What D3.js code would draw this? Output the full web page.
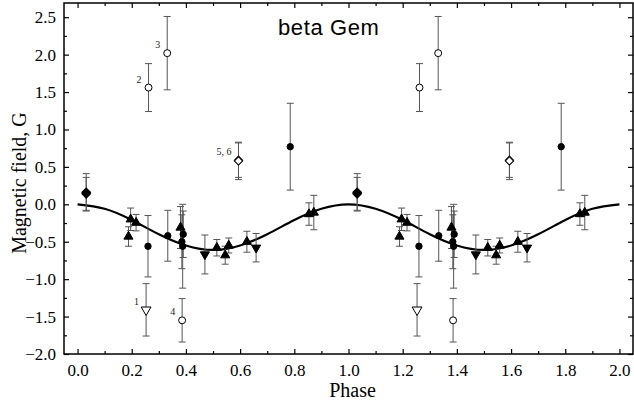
<!DOCTYPE html>
<html>
<head>
<meta charset="utf-8">
<script src="https://cdn.jsdelivr.net/npm/d3@7"></script>
<style>
  body { margin: 0; background: #fff; }
  svg { display: block; }
</style>
</head>
<body>
<div id="chart"></div>
<script>
// measurements for one rotation cycle: [phase, field (G), error]
const filledDiamonds = [[0.032, 0.16, 0.25], [0.032, 0.14, 0.22]];
const openDiamonds = [[0.594, 0.59, 0.23], [0.594, 0.58, 0.25]];
const filledCircles = [
  [0.26, -0.56, 0.41], [0.333, -0.42, 0.34], [0.39, -0.40, 0.31],
  [0.385, -0.50, 0.36], [0.388, -0.56, 0.56], [0.785, 0.77, 0.58]
];
const upTriangles = [
  [0.188, -0.43, 0.13], [0.196, -0.20, 0.15], [0.216, -0.245, 0.11],
  [0.38, -0.31, 0.28], [0.514, -0.58, 0.11], [0.545, -0.68, 0.12],
  [0.558, -0.55, 0.10], [0.625, -0.50, 0.14], [0.854, -0.13, 0.15],
  [0.872, -0.11, 0.23]
];
const downTriangles = [[0.47, -0.67, 0.26], [0.659, -0.58, 0.19]];
const openCircles = [[0.262, 1.56, 0.32], [0.331, 2.02, 0.49], [0.386, -1.55, 0.29]];
const openDownTriangles = [[0.253, -1.41, 0.35]];
// numbered labels (only on first cycle)
const pointLabels = [
  ["1", 0.253, -1.41], ["2", 0.262, 1.56], ["3", 0.331, 2.02],
  ["4", 0.386, -1.55], ["5, 6", 0.594, 0.59]
];

// fitted curve
const curvePhase = [0.0, 0.1, 0.2, 0.3, 0.4, 0.5, 0.6, 0.7, 0.8, 0.9, 1.0,
                    1.1, 1.2, 1.3, 1.4, 1.5, 1.6, 1.7, 1.8, 1.9, 2.0];
const curveField = [0.0, -0.06, -0.21, -0.40, -0.55, -0.61, -0.55, -0.40, -0.21, -0.06, 0.0,
                    -0.06, -0.21, -0.40, -0.55, -0.61, -0.55, -0.40, -0.21, -0.06, 0.0];

const xMajor = [0.0, 0.2, 0.4, 0.6, 0.8, 1.0, 1.2, 1.4, 1.6, 1.8, 2.0];
const xMinor = [0.1, 0.3, 0.5, 0.7, 0.9, 1.1, 1.3, 1.5, 1.7, 1.9];
const yMajor = [-2.0, -1.5, -1.0, -0.5, 0.0, 0.5, 1.0, 1.5, 2.0, 2.5];
const yMinor = [-1.75, -1.25, -0.75, -0.25, 0.25, 0.75, 1.25, 1.75, 2.25];

const width = 634, height = 405;
const plotLeft = 64, plotRight = 633, plotTop = 3, plotBottom = 354;
const serif = "'Liberation Serif', 'Times New Roman', serif";

const x = d3.scaleLinear().domain([-0.05, 2.05]).range([plotLeft, plotRight]);
const y = d3.scaleLinear().domain([-2.0, 2.69]).range([plotBottom, plotTop]);

const svg = d3.select('#chart').append('svg')
  .attr('width', width)
  .attr('height', height);

// both cycles are plotted
const twice = arr => arr.concat(arr.map(d => [d[0] + 1, d[1], d[2]]));

// axes with inward ticks
function addAxis(axis, tx, ty){
  const g = svg.append('g')
    .attr('transform', `translate(${tx},${ty})`)
    .call(axis);
  g.select('.domain').remove();
  g.selectAll('line').attr('stroke', '#000').attr('stroke-width', 1.2);
  g.selectAll('text')
    .attr('font-family', serif)
    .attr('font-size', 17)
    .attr('fill', '#000');
  return g;
}
const fmt = d3.format('.1f');
addAxis(d3.axisBottom(x).tickValues(xMajor).tickSizeInner(-5).tickSizeOuter(0).tickPadding(10).tickFormat(fmt), 0, plotBottom);
addAxis(d3.axisBottom(x).tickValues(xMinor).tickSizeInner(-3).tickSizeOuter(0).tickFormat(''), 0, plotBottom);
addAxis(d3.axisTop(x).tickValues(xMajor).tickSizeInner(-5).tickSizeOuter(0).tickFormat(''), 0, plotTop);
addAxis(d3.axisTop(x).tickValues(xMinor).tickSizeInner(-3).tickSizeOuter(0).tickFormat(''), 0, plotTop);
addAxis(d3.axisLeft(y).tickValues(yMajor).tickSizeInner(-5).tickSizeOuter(0).tickPadding(8).tickFormat(fmt), plotLeft, 0);
addAxis(d3.axisLeft(y).tickValues(yMinor).tickSizeInner(-3).tickSizeOuter(0).tickFormat(''), plotLeft, 0);
addAxis(d3.axisRight(y).tickValues(yMajor).tickSizeInner(-5).tickSizeOuter(0).tickFormat(''), plotRight, 0);
addAxis(d3.axisRight(y).tickValues(yMinor).tickSizeInner(-3).tickSizeOuter(0).tickFormat(''), plotRight, 0);

svg.append('rect')
  .attr('x', plotLeft).attr('y', plotTop)
  .attr('width', plotRight - plotLeft).attr('height', plotBottom - plotTop)
  .attr('fill', 'none')
  .attr('stroke', '#000')
  .attr('stroke-width', 1.5);

// fitted curve
const line = d3.line()
  .x((d, i) => x(curvePhase[i]))
  .y(d => y(d))
  .curve(d3.curveNatural);
svg.append('path')
  .datum(curveField)
  .attr('fill', 'none')
  .attr('stroke', '#000')
  .attr('stroke-width', 2.2)
  .attr('d', line);

// error bars
const allPoints = [filledDiamonds, openDiamonds, filledCircles, upTriangles,
                   downTriangles, openCircles, openDownTriangles].flatMap(twice);
const eb = svg.append('g')
  .attr('stroke', '#555')
  .attr('stroke-width', 1);
allPoints.forEach(d => {
  const px = x(d[0]), y1 = y(d[1] + d[2]), y2 = y(d[1] - d[2]);
  eb.append('line').attr('x1', px).attr('x2', px).attr('y1', y1).attr('y2', y2);
  eb.append('line').attr('x1', px - 3.5).attr('x2', px + 3.5).attr('y1', y1).attr('y2', y1);
  eb.append('line').attr('x1', px - 3.5).attr('x2', px + 3.5).attr('y1', y2).attr('y2', y2);
});

// markers
function drawMarkers(data, type, size, fill, rotate){
  svg.append('g').selectAll('path')
    .data(twice(data))
    .join('path')
    .attr('d', d3.symbol().type(type).size(size))
    .attr('transform', d => `translate(${x(d[0])},${y(d[1])}) rotate(${rotate})`)
    .attr('fill', fill)
    .attr('stroke', '#000')
    .attr('stroke-width', 1);
}
drawMarkers(filledCircles, d3.symbolCircle, 32, '#000', 0);
drawMarkers(upTriangles, d3.symbolTriangle, 36, '#000', 0);
drawMarkers(downTriangles, d3.symbolTriangle, 36, '#000', 180);
drawMarkers(filledDiamonds, d3.symbolSquare, 38, '#000', 45);
drawMarkers(openDiamonds, d3.symbolSquare, 34, '#fff', 45);
drawMarkers(openCircles, d3.symbolCircle, 38, '#fff', 0);
drawMarkers(openDownTriangles, d3.symbolTriangle, 42, '#fff', 180);

// point numbers
svg.append('g').selectAll('text')
  .data(pointLabels)
  .join('text')
  .attr('x', d => x(d[1]) - 7)
  .attr('y', d => y(d[2]) - 5)
  .attr('text-anchor', 'end')
  .attr('font-family', serif)
  .attr('font-size', 10)
  .attr('fill', '#222')
  .text(d => d[0]);

// title and axis titles
svg.append('text')
  .attr('x', 278).attr('y', 35)
  .attr('font-family', "'Liberation Sans', Arial, sans-serif")
  .attr('font-size', 22)
  .attr('letter-spacing', 0.6)
  .text('beta Gem');

svg.append('text')
  .attr('x', (plotLeft + plotRight) / 2 + 4).attr('y', 397)
  .attr('text-anchor', 'middle')
  .attr('font-family', serif)
  .attr('font-size', 20)
  .text('Phase');

svg.append('text')
  .attr('transform', 'translate(26,183) rotate(-90)')
  .attr('text-anchor', 'middle')
  .attr('font-family', serif)
  .attr('font-size', 20)
  .text('Magnetic field, G');
</script>
</body>
</html>
